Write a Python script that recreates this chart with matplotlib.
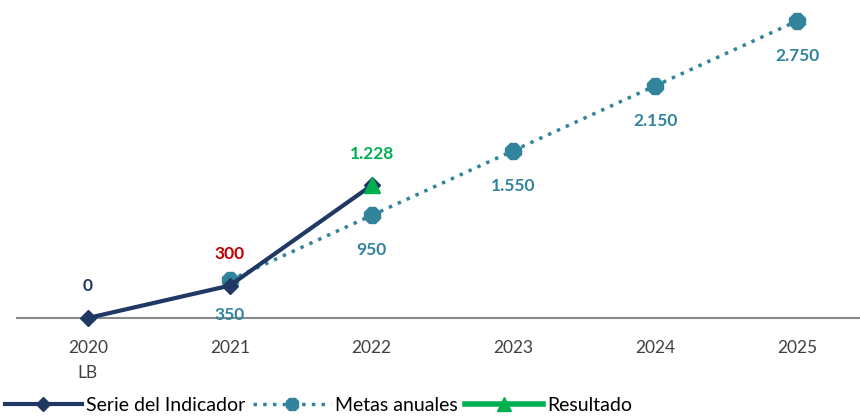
import matplotlib
matplotlib.use("Agg")
import matplotlib.pyplot as plt
from matplotlib.lines import Line2D

years = ["2020\nLB", "2021", "2022", "2023", "2024", "2025"]
serie_x = [0, 1, 2]
serie_vals = [0, 300, 1228]
serie_labels = ["0", "300", None]
metas_x = [1, 2, 3, 4, 5]
metas_vals = [350, 950, 1550, 2150, 2750]
metas_labels = ["350", "950", "1.550", "2.150", "2.750"]
result_x = [2]
result_vals = [1228]
result_labels = ["1.228"]

NAVY = "#1F3864"
TEAL = "#31849B"
GREEN = "#00B050"
RED = "#C00000"

plt.rcParams['font.family'] = ['Lato', 'DejaVu Sans']

fig = plt.figure(figsize=(8.6, 4.17), dpi=100)
ax = fig.add_axes([17/860, 1 - 318/417, 851/860, 318/417])
ax.set_xlim(-0.5, 5.5)
ax.set_ylim(0, 318/0.108)

ax.plot(metas_x, metas_vals, color=TEAL, lw=2.5, linestyle=(0, (1, 1.8)),
        marker="8", markersize=12, markerfacecolor=TEAL, markeredgecolor=TEAL, zorder=3,
        label="Metas anuales")
ax.plot(serie_x, serie_vals, color=NAVY, lw=3, marker="D", markersize=8,
        zorder=4, label="Serie del Indicador", clip_on=False)
ax.plot(result_x, result_vals, color=GREEN, lw=4, marker="^", markersize=12,
        zorder=5, label="Resultado")

FS = 12.5
serie_colors = [NAVY, RED, NAVY]
for x, v, t, c in zip(serie_x, serie_vals, serie_labels, serie_colors):
    if t:
        ax.annotate(t, (x, v), xytext=(0, 32), textcoords="offset pixels",
                    ha="center", va="center", color=c, fontsize=FS, fontweight="bold")
for x, v, t in zip(metas_x, metas_vals, metas_labels):
    ax.annotate(t, (x, v), xytext=(0, -35), textcoords="offset pixels",
                ha="center", va="center", color=TEAL, fontsize=FS, fontweight="bold")
for x, v, t in zip(result_x, result_vals, result_labels):
    ax.annotate(t, (x, v), xytext=(0, 31), textcoords="offset pixels",
                ha="center", va="center", color=GREEN, fontsize=FS, fontweight="bold")

ax.set_xticks(range(len(years)))
ax.set_xticklabels(years, color="#404040", fontsize=12.5, linespacing=1.7)
ax.tick_params(axis="x", length=0, pad=16)
ax.set_yticks([])
for s in ["top", "right", "left"]:
    ax.spines[s].set_visible(False)
ax.spines["bottom"].set_color("#898989")
ax.spines["bottom"].set_linewidth(1.5)
ax.patch.set_alpha(0)

handles = [
    Line2D([], [], color=NAVY, lw=3, marker="D", markersize=7),
    Line2D([], [], color=TEAL, lw=2.5, linestyle=(0, (1, 1.8)), marker="8", markersize=10),
    Line2D([], [], color=GREEN, lw=4, marker="^", markersize=10),
]
fig.legend(handles, ["Serie del Indicador", "Metas anuales", "Resultado"],
           loc="lower left", bbox_to_anchor=(-0.015, -0.035), ncol=3, frameon=False,
           fontsize=14, handlelength=4.0, handletextpad=0.2, columnspacing=0.4,
           labelcolor="#000000")

fig.savefig("out.png", dpi=100)
